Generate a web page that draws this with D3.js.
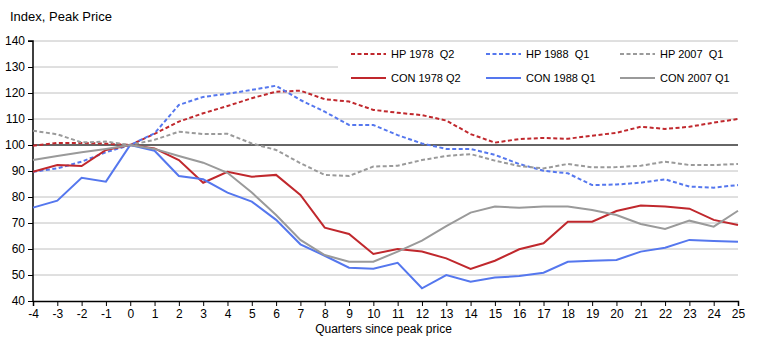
<!DOCTYPE html>
<html>
<head>
<meta charset="utf-8">
<script src="https://cdn.jsdelivr.net/npm/d3@7"></script>
<style>
  body { margin: 0; background: #fff; }
  text { font-family: "Liberation Sans", Arial, sans-serif; fill: #000; }
</style>
</head>
<body>
<svg id="chart"></svg>
<script>
// quarters since peak price
const quarters = d3.range(-4, 26);
const yTicks = [40, 50, 60, 70, 80, 90, 100, 110, 120, 130, 140];

// series values, one per quarter (-4 .. 25)
const hp1978 = [99.7, 100.8, 100.8, 100.5, 100, 104.3, 109, 112.2, 115, 118, 120.5, 120.9, 117.6, 116.7, 113.5, 112.4, 111.5, 109.4, 104.2, 100.9,
  102.3, 102.7, 102.4, 103.6, 104.7, 107, 106.2, 107, 108.6, 110];
const hp1988 = [89.7, 91, 93.6, 97.2, 100, 104.5, 115.4, 118.5, 119.7, 121.2, 122.8, 117.3, 112.8, 107.7, 107.7, 103.8, 100.6, 98.5, 98.5, 96.2,
  92.7, 90.1, 89.1, 84.6, 84.8, 85.5, 86.8, 84, 83.6, 84.6];
const hp2007 = [105.5, 104.1, 101, 101.3, 100, 102, 105.1, 104.2, 104.3, 100.6, 98.1, 93, 88.5, 88.1, 91.7, 92, 94.2, 95.8, 96.5, 94,
  91.9, 91, 92.7, 91.4, 91.5, 92, 93.6, 92.3, 92.3, 92.7];
const con1978 = [89.7, 92.3, 91.9, 98.1, 100, 98.7, 94.2, 85.5, 89.7, 87.8, 88.5, 80.8, 68.2, 65.8, 58.1, 60, 59, 56.4, 52.3, 55.5,
  59.9, 62.2, 70.5, 70.5, 74.6, 76.7, 76.3, 75.5, 71.2, 69.2];
const con1988 = [75.9, 78.6, 87.4, 85.9, 100, 97.8, 88.1, 86.8, 81.7, 78.2, 71.2, 61.8, 57.4, 52.8, 52.4, 54.7, 44.9, 50, 47.4, 49,
  49.6, 50.9, 55.1, 55.5, 55.8, 59, 60.5, 63.5, 63.1, 62.8];
const con2007 = [94.2, 95.8, 97.2, 98.5, 100, 98.5, 95.8, 93.2, 89.3, 81.7, 73.1, 63.5, 57.7, 55.1, 55.1, 59, 63.2, 68.8, 74, 76.3,
  75.9, 76.3, 76.3, 75, 73.1, 69.6, 67.7, 70.9, 68.6, 74.7];

const seriesNames = ['HP 1978  Q2', 'HP 1988  Q1', 'HP 2007  Q1', 'CON 1978 Q2', 'CON 1988 Q1', 'CON 2007 Q1'];
const seriesValues = [hp1978, hp1988, hp2007, con1978, con1988, con2007];

const red = '#c0282d', blue = '#5577ee', grey = '#9a9a9a';
const colours = [red, blue, grey, red, blue, grey];
const dashed = [true, true, true, false, false, false];

const W = 760, H = 341;
const margin = { top: 41, right: 22, bottom: 40, left: 33 };
const w = W - margin.left - margin.right;
const h = H - margin.top - margin.bottom;

const svg = d3.select('#chart').attr('width', W).attr('height', H);
const g = svg.append('g').attr('transform', `translate(${margin.left},${margin.top})`);

const x = d3.scaleLinear().domain([-4, 25]).range([0, w]);
const y = d3.scaleLinear().domain([40, 140]).range([h, 0]);

// gridlines
g.append('g')
  .selectAll('line')
  .data(yTicks.filter(d => d !== 40 && d !== 100))
  .join('line')
  .attr('x1', 0).attr('x2', w)
  .attr('y1', d => y(d)).attr('y2', d => y(d))
  .attr('stroke', '#c0c0c0').attr('stroke-width', 1);

// legend background hides part of the grid
g.append('rect')
  .attr('x', 305).attr('y', 6).attr('width', w - 305).attr('height', 40)
  .attr('fill', '#fff');

// reference line at 100
g.append('line')
  .attr('x1', 0).attr('x2', w)
  .attr('y1', y(100)).attr('y2', y(100))
  .attr('stroke', '#666').attr('stroke-width', 2);

// axes
const yAxis = g.append('g')
  .call(d3.axisLeft(y).tickValues(yTicks).tickSize(5).tickPadding(3));
const xAxis = g.append('g')
  .attr('transform', `translate(0,${h})`)
  .call(d3.axisBottom(x).tickValues(quarters).tickFormat(d => String(d)).tickSize(5).tickPadding(3));
[xAxis, yAxis].forEach(a => {
  a.select('.domain').attr('stroke', '#000').attr('stroke-width', 1.5);
  a.selectAll('.tick line').attr('stroke', '#000');
  a.selectAll('.tick text').style('font-size', '12px').attr('fill', '#000')
    .style('font-family', '"Liberation Sans", Arial, sans-serif');
});
yAxis.select('.domain').attr('d', `M-5,${y(140)}H0V${h}`);

// lines
const line = d3.line().x((d, i) => x(quarters[i])).y(d => y(d));
seriesValues.forEach((vals, i) => {
  g.append('path')
    .datum(vals)
    .attr('fill', 'none')
    .attr('stroke', colours[i])
    .attr('stroke-width', 2)
    .attr('stroke-dasharray', dashed[i] ? '4,2.5' : null)
    .attr('d', line);
});

// legend
const legendX = [318, 453, 587];
const legendY = [13, 37];
seriesNames.forEach((name, i) => {
  const lx = legendX[i % 3], ly = legendY[Math.floor(i / 3)];
  g.append('line')
    .attr('x1', lx).attr('x2', lx + 35)
    .attr('y1', ly).attr('y2', ly)
    .attr('stroke', colours[i]).attr('stroke-width', 2)
    .attr('stroke-dasharray', dashed[i] ? '4,2.5' : null);
  g.append('text')
    .attr('x', lx + 40).attr('y', ly + 4)
    .style('font-size', '11px')
    .style('white-space', 'pre')
    .attr('xml:space', 'preserve')
    .text(name);
});

// titles
svg.append('text')
  .attr('x', 10).attr('y', 21)
  .style('font-size', '13px')
  .text('Index, Peak Price');
svg.append('text')
  .attr('x', margin.left + w / 2 - 2).attr('y', 333)
  .attr('text-anchor', 'middle')
  .style('font-size', '12px')
  .text('Quarters since peak price');
</script>
</body>
</html>
